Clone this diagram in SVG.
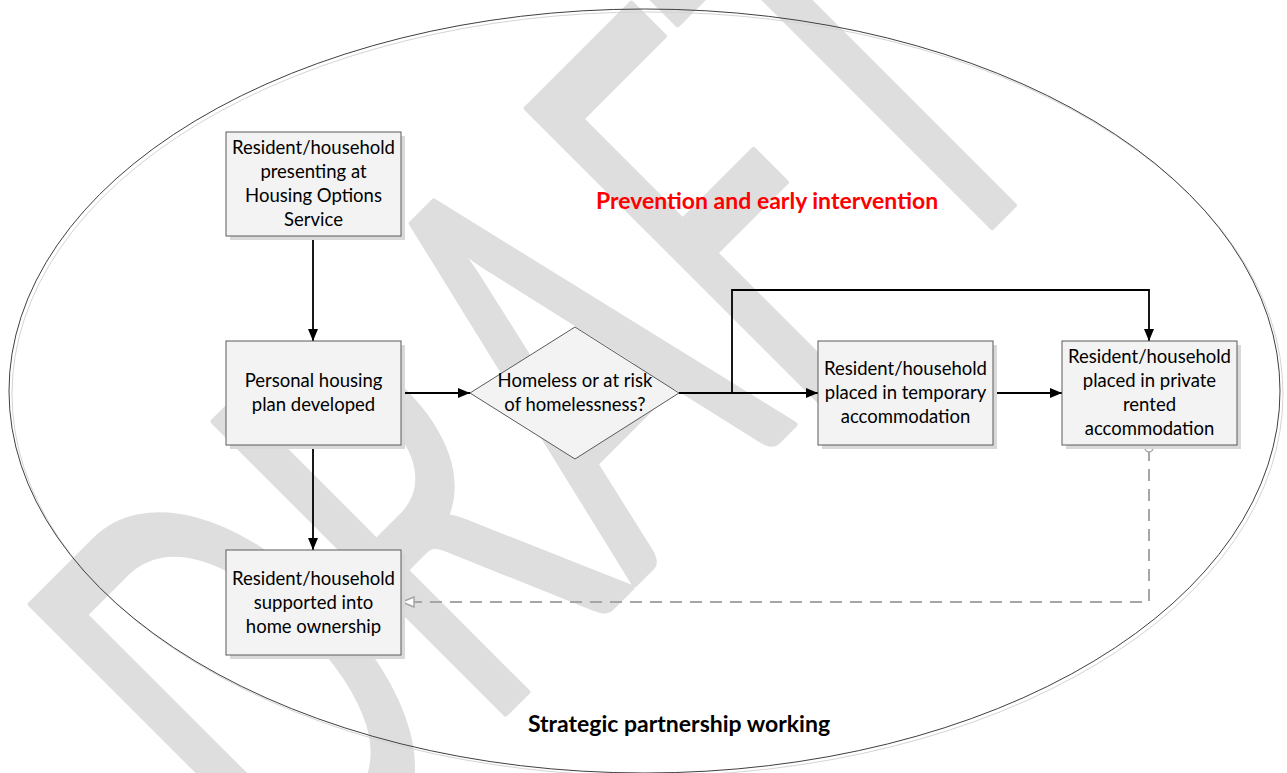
<svg xmlns="http://www.w3.org/2000/svg" width="1287" height="773" viewBox="0 0 1287 773">
<defs>
<style>
.node rect.sh, .node polygon.sh { fill:#d9d9d9; stroke:none; }
.node rect.bx, .node polygon.bx { fill:#f3f3f3; stroke:#5a5a5a; stroke-width:1; }
.node text { font-family:Lato, "Liberation Sans", sans-serif; font-size:18.5px; fill:#000; text-anchor:middle; }
.conn { fill:none; stroke:#000; stroke-width:1.8; }
.dash { fill:none; stroke:#a6a6a6; stroke-width:2; stroke-dasharray:12 8; }
.lbl { font-family:Lato, "Liberation Sans", sans-serif; font-weight:bold; font-size:23px; text-anchor:middle; }
</style>
<marker id="arr" viewBox="0 0 12 10" refX="12" refY="5" markerWidth="12" markerHeight="10" markerUnits="userSpaceOnUse" orient="auto">
<path d="M0,0 L12,5 L0,10 Z" fill="#000"/>
</marker>
<marker id="harr" viewBox="0 0 14 12" refX="13" refY="6" markerWidth="14" markerHeight="12" markerUnits="userSpaceOnUse" orient="auto">
<path d="M1,1 L13,6 L1,11 Z" fill="#fff" stroke="#a6a6a6" stroke-width="1.5"/>
</marker>
</defs>
<rect width="1287" height="773" fill="#fff"/>
<g id="watermark">
<text x="0" y="0" transform="translate(300,919) rotate(-45) scale(0.59,1)" font-family="Lato, 'Liberation Sans', sans-serif" font-size="576" fill="#dedede" stroke="#dedede" stroke-width="6" stroke-linejoin="round">DRAFT</text>
</g>
<g id="boundary">
<ellipse cx="647.5" cy="394" rx="635.5" ry="382" fill="none" stroke="#d4d4d4" stroke-width="1"/>
<ellipse cx="644.5" cy="391" rx="635.5" ry="382" fill="none" stroke="#404040" stroke-width="1"/>
</g>
<g id="connectors">
<path class="conn" d="M313,236 V341" marker-end="url(#arr)"/>
<path class="conn" d="M313,445 V550" marker-end="url(#arr)"/>
<path class="conn" d="M401,393 H470" marker-end="url(#arr)"/>
<path class="conn" d="M679,393 H818" marker-end="url(#arr)"/>
<path class="conn" d="M732,393 V290 H1149 V341" marker-end="url(#arr)"/>
<path class="conn" d="M993,393 H1062" marker-end="url(#arr)"/>
<path class="dash" d="M1149,449 V602 H402" marker-end="url(#harr)"/>
<circle cx="1149" cy="448" r="4" fill="#fff" stroke="#a6a6a6" stroke-width="1.5"/>
</g>
<g id="n1" class="node">
<rect class="sh" x="230" y="136" width="175" height="104"/>
<rect class="bx" x="226" y="132" width="175" height="104"/>
<text x="313.5" y="154">Resident/household</text>
<text x="313.5" y="178">presenting at</text>
<text x="313.5" y="202">Housing Options</text>
<text x="313.5" y="226">Service</text>
</g>
<g id="n2" class="node">
<rect class="sh" x="230" y="345" width="175" height="104"/>
<rect class="bx" x="226" y="341" width="175" height="104"/>
<text x="313.5" y="387">Personal housing</text>
<text x="313.5" y="411">plan developed</text>
</g>
<g id="n3" class="node">
<rect class="sh" x="230" y="554" width="175" height="105"/>
<rect class="bx" x="226" y="550" width="175" height="105"/>
<text x="313.5" y="585">Resident/household</text>
<text x="313.5" y="609">supported into</text>
<text x="313.5" y="633">home ownership</text>
</g>
<g id="n4" class="node">
<polygon class="bx" points="575,327 679,393 575,459 470,393"/>
<text x="575" y="387">Homeless or at risk</text>
<text x="575" y="411">of homelessness?</text>
</g>
<g id="n5" class="node">
<rect class="sh" x="822" y="345" width="175" height="104"/>
<rect class="bx" x="818" y="341" width="175" height="104"/>
<text x="905.5" y="375">Resident/household</text>
<text x="905.5" y="399">placed in temporary</text>
<text x="905.5" y="423">accommodation</text>
</g>
<g id="n6" class="node">
<rect class="sh" x="1066" y="345" width="175" height="104"/>
<rect class="bx" x="1062" y="341" width="175" height="104"/>
<text x="1149.5" y="363">Resident/household</text>
<text x="1149.5" y="387">placed in private</text>
<text x="1149.5" y="411">rented</text>
<text x="1149.5" y="435">accommodation</text>
</g>
<g id="labels">
<text class="lbl" x="767" y="209" fill="#ff0000">Prevention and early intervention</text>
<text class="lbl" x="679" y="732" fill="#000">Strategic partnership working</text>
</g>
</svg>
